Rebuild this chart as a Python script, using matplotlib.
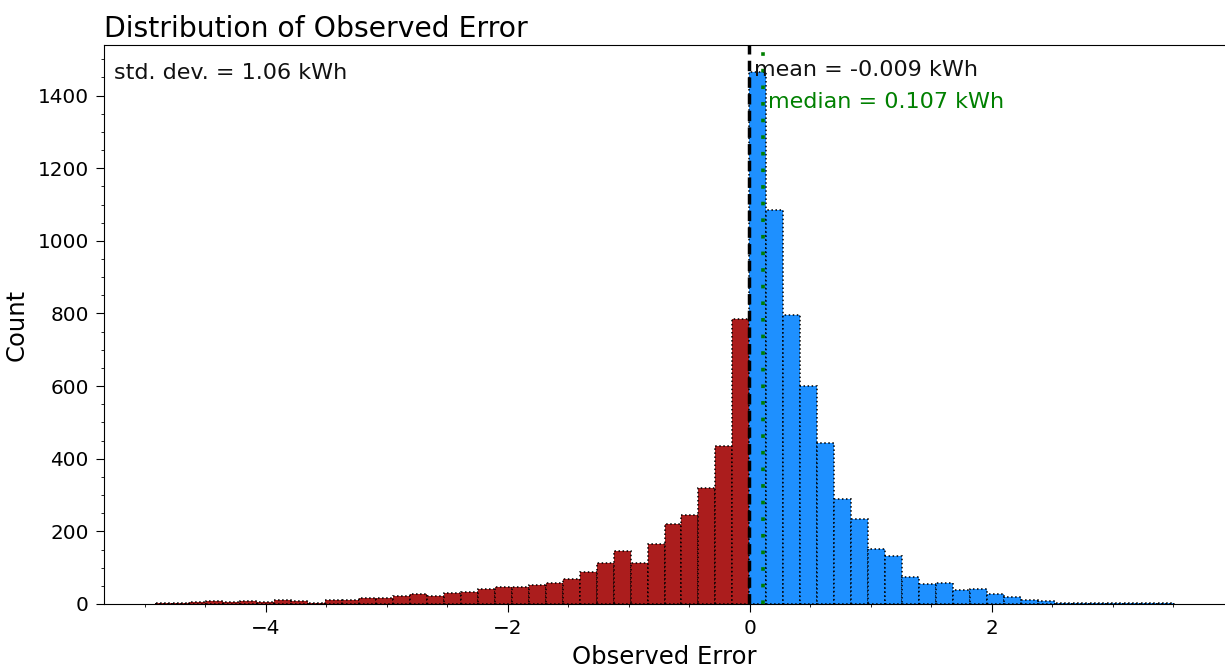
import numpy as np
import matplotlib
matplotlib.use("Agg")
import matplotlib.pyplot as plt
import matplotlib.transforms as mtransforms

# histogram of observed error (kWh), 60 equal bins between the extremes
err_min, err_max = -4.915, 3.505
counts = [2, 3, 6, 7, 6, 7, 6, 11, 7, 3,
          11, 10, 16, 16, 23, 27, 22, 30, 33, 40,
          47, 46, 53, 57, 69, 89, 113, 146, 113, 165,
          219, 246, 319, 435, 784, 1466, 1086, 797, 600, 444,
          288, 233, 151, 131, 75, 54, 58, 38, 42, 28,
          18, 12, 8, 3, 3, 2, 2, 2, 2, 2]

err_mean = -0.009
err_median = 0.107
err_std = 1.06

edges = np.linspace(err_min, err_max, len(counts) + 1)
widths = np.diff(edges)
centers = edges[:-1] + widths / 2
colors = np.where(centers < 0, '#AB1D1D', '#1E90FF')

fig = plt.figure(figsize=(12.25, 6.69), dpi=100)
ax = fig.add_axes([0.0849, 0.0972, 0.9151, 0.8355])

ax.bar(edges[:-1], counts, width=widths, align='edge', color=colors,
       edgecolor='black', linewidth=1.1, linestyle=':')

ax.axvline(err_mean, color='black', linewidth=2.5, linestyle=(0, (3.0, 1.8)), zorder=3)
ax.axvline(err_median, color='green', linewidth=2.6, linestyle=(0, (1, 3.6)), zorder=3)

trans = mtransforms.blended_transform_factory(ax.transData, ax.transAxes)
ax.text(err_mean + 0.045, 0.9445, 'mean = %.3f kWh' % err_mean, transform=trans,
        fontsize=16, color='#111111', va='baseline', ha='left')
ax.text(err_median + 0.045, 0.887, 'median = %.3f kWh' % err_median, transform=trans,
        fontsize=16, color='green', va='baseline', ha='left')
ax.text(0.009, 0.939, 'std. dev. = %.2f kWh' % err_std, transform=ax.transAxes,
        fontsize=16, color='#111111', va='baseline', ha='left')

ax.set_title('Distribution of Observed Error', loc='left', fontsize=20.3)
ax.set_xlabel('Observed Error', fontsize=17.5, labelpad=5)
ax.set_ylabel('Count', fontsize=17.5, labelpad=6)
ax.tick_params(labelsize=14.4)
ax.tick_params(which='major', length=5.5, pad=5.5)
ax.tick_params(which='minor', length=2.5)
ax.minorticks_on()
ax.spines['right'].set_visible(False)

fig.savefig('out.png', dpi=100)
